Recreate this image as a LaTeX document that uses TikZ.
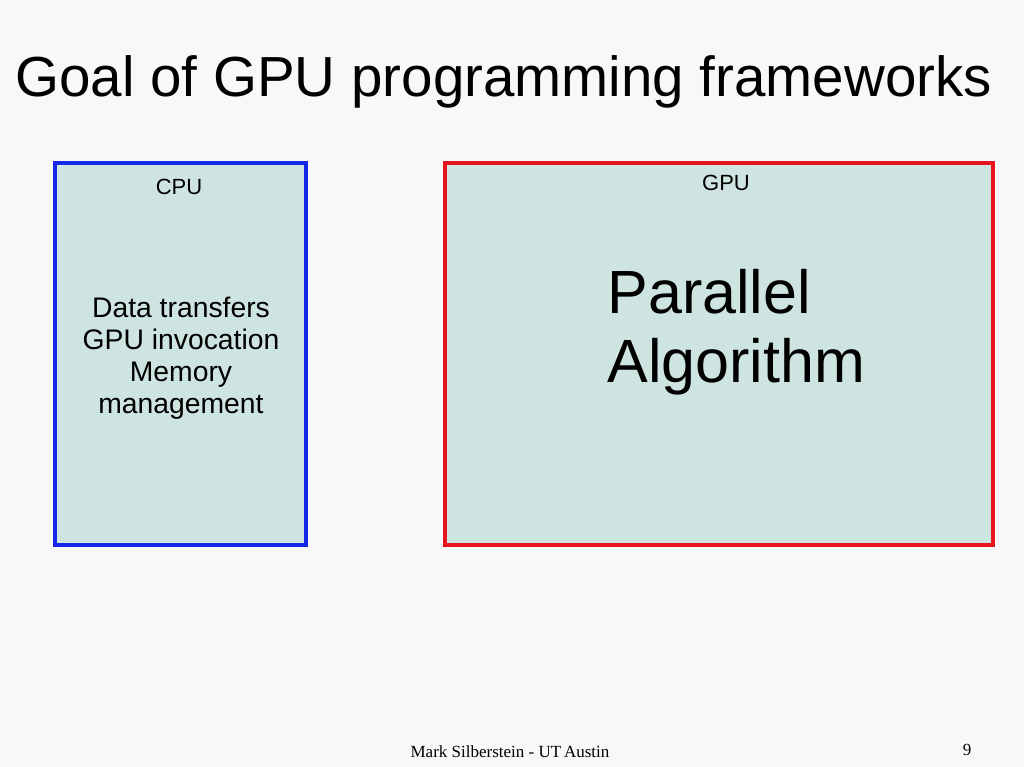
\documentclass[tikz,border=0pt]{standalone}
\usepackage{fontspec}
\setmainfont{Liberation Sans}
\newfontfamily\footfont{Liberation Serif}
\definecolor{pagebg}{RGB}{248,248,248}
\definecolor{boxfill}{RGB}{206,228,224}
\definecolor{cpuline}{RGB}{20,40,230}
\definecolor{gpuline}{RGB}{230,20,30}
\tikzset{
  unitbox/.style={fill=boxfill, line width=3.4pt},
  boxlabel/.style={font=\fontsize{22}{26}\selectfont, anchor=center},
}
\begin{document}
\begin{tikzpicture}[x=1pt,y=-1pt]
    \fill[pagebg] (0,0) rectangle (1024,767);
    \useasboundingbox (0,0) rectangle (1024,767);
    \node[anchor=west, font=\fontsize{56.5}{62}\selectfont] (title) at (12,82) {Goal of GPU programming frameworks};
    % CPU side
    \draw[unitbox, draw=cpuline] (55,163) rectangle (306,545);
    \node[boxlabel] (cpu) at (179,187) {CPU};
    \node[align=center, font=\fontsize{28.3}{32}\selectfont] (cpujobs) at (181,358)
      {Data transfers\\GPU invocation\\Memory\\management};
    % GPU side
    \draw[unitbox, draw=gpuline] (445,163) rectangle (993,545);
    \node[boxlabel] (gpu) at (726,183) {GPU};
    \node[align=left, anchor=west, font=\fontsize{61}{69}\selectfont] (algo) at (604,332)
      {Parallel\\Algorithm};
    % footer
    \node[font=\footfont\fontsize{17}{20}\selectfont] (author) at (510,752) {Mark Silberstein - UT\,Austin};
    \node[font=\footfont\fontsize{17}{20}\selectfont] (pageno) at (967,750) {9};
\end{tikzpicture}
\end{document}
